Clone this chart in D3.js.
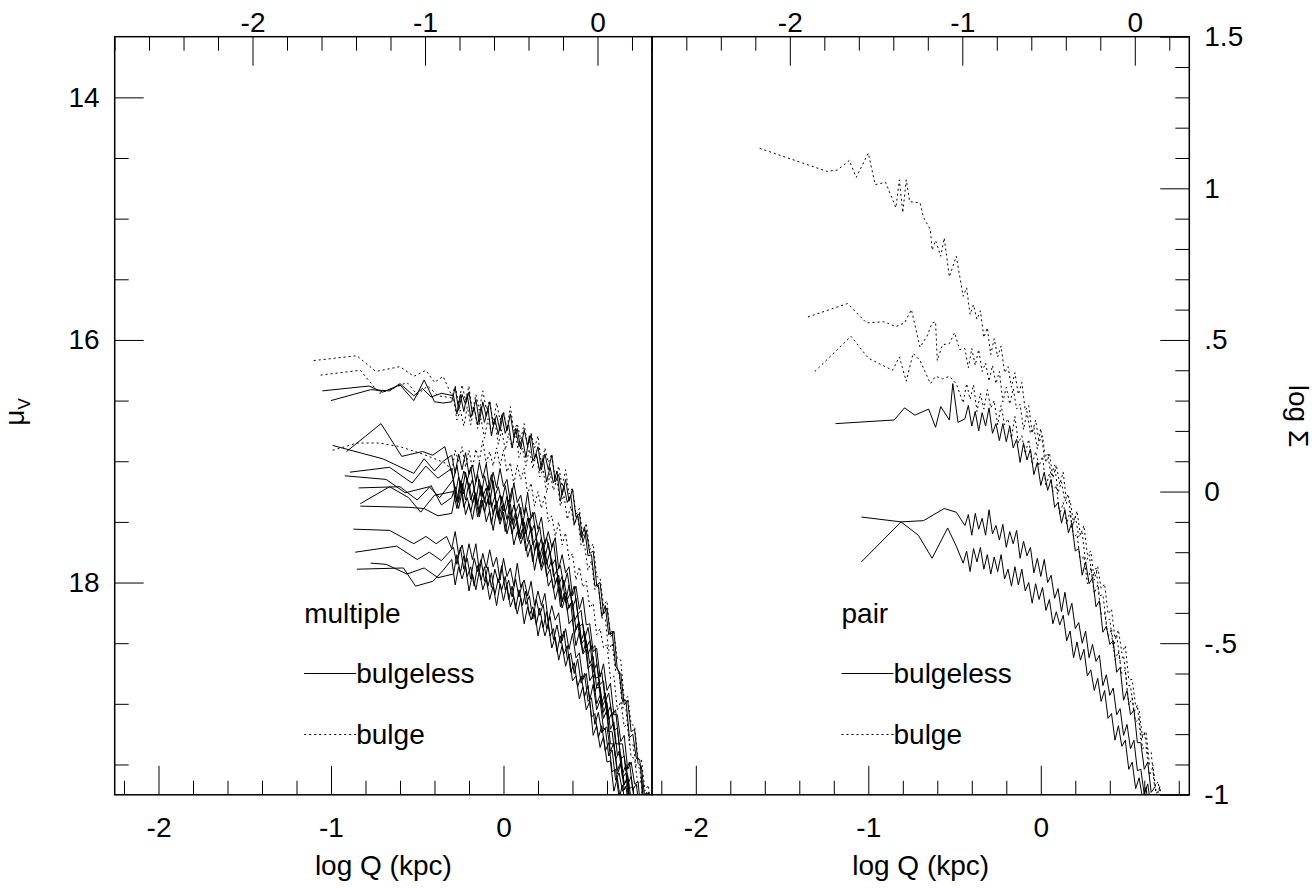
<!DOCTYPE html>
<html><head><meta charset="utf-8">
<script src="https://cdn.jsdelivr.net/npm/d3@7"></script>
<style>body{margin:0;background:#fff}svg{display:block}</style>
</head><body><svg id="c" width="1315" height="888"></svg>
<script>
// ---------- tick values / labels ----------
const BOTTOM_MAJOR = [-2,-1,0], BOTTOM_LABELS = ["-2","-1","0"];
const BOTTOM_MINOR = [-2.2,-1.8,-1.6,-1.4,-1.2,-0.8,-0.6,-0.4,-0.2,0.2,0.4,0.6,0.8];
const TOP_MAJOR = [-2,-1,0], TOP_LABELS = ["-2","-1","0"];
const TOP_MINOR = [-2.8,-2.6,-2.4,-2.2,-1.8,-1.6,-1.4,-1.2,-0.8,-0.6,-0.4,-0.2,0.2];
const MU_MAJOR = [14,16,18], MU_LABELS = ["14","16","18"];
const MU_MINOR = [14.5,15,15.5,16.5,17,17.5,18.5,19,19.5];
const SIG_MAJOR = [-1,-0.5,0,0.5,1,1.5], SIG_LABELS = ["-1","-.5","0",".5","1","1.5"];
const SIG_MINOR = [-0.9,-0.8,-0.7,-0.6,-0.4,-0.3,-0.2,-0.1,0.1,0.2,0.3,0.4,0.6,0.7,0.8,0.9,1.1,1.2,1.3,1.4];
const PANEL_NAMES = ["multiple","pair"];
const LEGEND_LABELS = ["bulgeless","bulge"];

// ---------- log Q sampling of the outer profile parts ----------
const TAIL_X_L = [-0.30,-0.28,-0.26,-0.24,-0.22,-0.20,-0.18,-0.16,-0.14,-0.12,-0.10,-0.08,-0.06,-0.04,-0.02,0.00,0.02,0.04,0.06,0.08,0.10,0.12,0.14,0.16,0.18,0.20,0.22,0.24,0.26,0.28,0.30,0.32,0.34,0.36,0.38,0.40,0.42,0.44,0.46,0.48,0.50,0.52,0.54,0.56,0.58,0.60,0.62,0.64,0.66,0.68,0.70,0.72,0.74,0.76,0.78,0.80,0.82,0.84,0.86,0.88];
const TAIL_X_L2 = [-0.29,-0.27,-0.25,-0.23,-0.21,-0.19,-0.17,-0.15,-0.13,-0.11,-0.09,-0.07,-0.05,-0.03,-0.01,0.01,0.03,0.05,0.07,0.09,0.11,0.13,0.15,0.17,0.19,0.21,0.23,0.25,0.27,0.29,0.31,0.33,0.35,0.37,0.39,0.41,0.43,0.45,0.47,0.49,0.51,0.53,0.55,0.57,0.59,0.61,0.63,0.65,0.67,0.69,0.71,0.73,0.75,0.77,0.79,0.81,0.83,0.85,0.87];
const TAIL_X_R = [-0.45,-0.43,-0.41,-0.39,-0.37,-0.35,-0.33,-0.31,-0.29,-0.27,-0.25,-0.23,-0.21,-0.19,-0.17,-0.15,-0.13,-0.11,-0.09,-0.07,-0.05,-0.03,-0.01,0.01,0.03,0.05,0.07,0.09,0.11,0.13,0.15,0.17,0.19,0.21,0.23,0.25,0.27,0.29,0.31,0.33,0.35,0.37,0.39,0.41,0.43,0.45,0.47,0.49,0.51,0.53,0.55,0.57,0.59,0.61,0.63,0.65,0.67,0.69,0.71,0.73,0.75];
const TAIL_X_R2 = [-0.44,-0.42,-0.40,-0.38,-0.36,-0.34,-0.32,-0.30,-0.28,-0.26,-0.24,-0.22,-0.20,-0.18,-0.16,-0.14,-0.12,-0.10,-0.08,-0.06,-0.04,-0.02,0.00,0.02,0.04,0.06,0.08,0.10,0.12,0.14,0.16,0.18,0.20,0.22,0.24,0.26,0.28,0.30,0.32,0.34,0.36,0.38,0.40,0.42,0.44,0.46,0.48,0.50,0.52,0.54,0.56,0.58,0.60,0.62,0.64,0.66,0.68,0.70,0.72,0.74];

// ---------- "multiple" panel: inner points [logQ, mu] and outer mu values ----------
const mS1h = [[-1.05,16.42],[-0.78,16.38],[-0.70,16.43],[-0.60,16.37],[-0.52,16.50],[-0.46,16.33],[-0.40,16.51],[-0.35,16.52]];
const mS1t = [16.51,16.39,16.58,16.45,16.53,16.43,16.61,16.49,16.68,16.51,16.63,16.51,16.70,16.62,16.75,16.60,16.75,16.61,16.80,16.73,16.90,16.74,16.87,16.78,16.98,16.88,17.07,16.94,17.07,16.95,17.17,17.11,17.28,17.15,17.33,17.23,17.46,17.43,17.67,17.57,17.76,17.74,18.02,18.00,18.26,18.21,18.43,18.40,18.72,18.75,19.01,18.97,19.23,19.21,19.49,19.52,19.79,19.73,19.95];
const mS2h = [[-1.00,16.50],[-0.77,16.41],[-0.66,16.42],[-0.60,16.36],[-0.52,16.46],[-0.47,16.40],[-0.42,16.47],[-0.36,16.44]];
const mS2t = [16.46,16.61,16.45,16.59,16.45,16.64,16.56,16.70,16.55,16.68,16.56,16.79,16.65,16.78,16.62,16.77,16.70,16.89,16.73,16.88,16.81,16.97,16.79,17.00,16.94,17.08,16.97,17.17,17.05,17.18,17.08,17.33,17.20,17.34,17.28,17.52,17.44,17.63,17.54,17.78,17.77,18.03,18.02,18.28,18.19,18.43,18.40,18.69,18.73,18.98,18.97,19.28,19.25,19.45,19.46,19.77,19.73,19.95];
const mD1h = [[-1.10,16.17],[-0.85,16.13],[-0.74,16.26],[-0.60,16.22],[-0.52,16.30],[-0.45,16.25],[-0.40,16.35],[-0.35,16.30]];
const mD1t = [16.46,16.38,16.53,16.37,16.50,16.38,16.60,16.45,16.58,16.42,16.57,16.50,16.69,16.52,16.66,16.59,16.74,16.55,16.75,16.69,16.82,16.69,16.89,16.77,16.89,16.79,17.03,16.89,17.01,16.94,17.15,17.04,17.21,17.07,17.27,17.22,17.44,17.39,17.62,17.51,17.73,17.68,17.95,17.96,18.19,18.15,18.45,18.41,18.63,18.64,18.97,18.94,19.17,19.18,19.45,19.46,19.72,19.67,19.91];
const mD2h = [[-1.06,16.29],[-0.83,16.25],[-0.72,16.44],[-0.64,16.40],[-0.56,16.35],[-0.50,16.45],[-0.44,16.38],[-0.38,16.46]];
const mD2t = [16.48,16.66,16.58,16.71,16.55,16.70,16.55,16.73,16.65,16.81,16.65,16.77,16.67,16.86,16.74,16.91,16.77,16.89,16.76,16.97,16.89,17.04,16.90,17.06,16.94,17.13,17.07,17.26,17.10,17.24,17.15,17.37,17.28,17.48,17.37,17.53,17.45,17.70,17.69,17.90,17.82,18.06,18.02,18.29,18.30,18.56,18.50,18.73,18.75,19.03,19.04,19.34,19.33,19.52,19.53,19.82,19.81];
const mD3h = [[-0.99,16.91],[-0.85,16.85],[-0.72,16.85],[-0.60,16.88],[-0.47,16.94],[-0.38,16.99],[-0.33,17.02]];
const mD3t = [17.09,16.91,17.00,16.88,17.05,16.91,17.06,16.90,17.00,16.83,17.02,16.92,17.04,16.89,17.04,16.91,17.09,17.01,17.19,17.03,17.15,17.06,17.27,17.18,17.37,17.25,17.39,17.28,17.50,17.45,17.62,17.50,17.69,17.59,17.81,17.76,17.98,17.87,18.04,17.99,18.21,18.17,18.43,18.38,18.54,18.51,18.79,18.77,19.05,18.98,19.19,19.16,19.44,19.45,19.68,19.62,19.86];
const mM1h = [[-0.99,16.87],[-0.70,16.98],[-0.52,17.10],[-0.46,16.98],[-0.40,17.08],[-0.35,17.00]];
const mM1t = [16.95,17.10,16.94,17.07,16.93,17.11,17.03,17.17,17.01,17.14,17.02,17.24,17.09,17.22,17.06,17.21,17.15,17.34,17.18,17.34,17.28,17.44,17.26,17.47,17.42,17.56,17.46,17.68,17.58,17.71,17.63,17.89,17.77,17.92,17.87,18.11,18.03,18.22,18.12,18.35,18.34,18.57,18.54,18.78,18.67,18.89,18.83,19.09,19.09,19.31,19.26,19.54,19.48,19.66,19.64,19.93];
const mM2h = [[-0.91,16.92],[-0.71,16.69],[-0.59,16.96],[-0.47,16.92],[-0.41,16.95],[-0.34,16.88]];
const mM2t = [17.15,17.03,17.21,17.08,17.16,17.05,17.23,17.11,17.29,17.12,17.24,17.11,17.29,17.21,17.34,17.20,17.35,17.22,17.42,17.35,17.53,17.38,17.51,17.42,17.63,17.54,17.74,17.63,17.77,17.66,17.90,17.86,18.03,17.92,18.11,18.03,18.26,18.23,18.47,18.37,18.55,18.52,18.78,18.74,18.98,18.91,19.10,19.05,19.33,19.33,19.55,19.48,19.71,19.66,19.90];
const mM3h = [[-0.89,17.09],[-0.66,17.05],[-0.53,17.18],[-0.45,17.04],[-0.38,17.14]];
const mM3t = [17.06,17.28,17.13,17.25,17.09,17.23,17.15,17.33,17.15,17.29,17.22,17.36,17.16,17.36,17.28,17.41,17.29,17.48,17.36,17.48,17.38,17.61,17.47,17.59,17.52,17.73,17.63,17.80,17.67,17.86,17.81,18.02,17.95,18.16,18.02,18.21,18.13,18.36,18.34,18.54,18.48,18.74,18.67,18.84,18.81,19.09,19.02,19.22,19.20,19.45,19.43,19.67,19.60,19.82];
const mM4h = [[-0.92,17.12],[-0.68,17.15],[-0.57,17.26],[-0.43,17.21],[-0.37,17.30]];
const mM4t = [17.15,17.33,17.16,17.27,17.14,17.32,17.23,17.36,17.20,17.34,17.20,17.38,17.29,17.46,17.29,17.42,17.32,17.52,17.42,17.60,17.47,17.60,17.47,17.69,17.63,17.79,17.67,17.85,17.74,17.95,17.90,18.12,17.98,18.14,18.08,18.32,18.26,18.48,18.40,18.59,18.52,18.79,18.78,18.99,18.91,19.13,19.07,19.33,19.33,19.58,19.50,19.70,19.68,19.93];
const mM5h = [[-0.84,17.22],[-0.60,17.21],[-0.50,17.32],[-0.42,17.20],[-0.36,17.36]];
const mM5t = [17.30,17.21,17.34,17.18,17.32,17.18,17.35,17.26,17.43,17.25,17.37,17.26,17.44,17.33,17.49,17.35,17.48,17.35,17.56,17.49,17.64,17.50,17.66,17.54,17.74,17.67,17.87,17.74,17.89,17.81,18.01,17.94,18.16,18.08,18.21,18.15,18.39,18.33,18.58,18.48,18.67,18.61,18.87,18.86,19.07,18.99,19.21,19.15,19.42,19.42,19.67,19.59,19.79,19.77];
const mM6h = [[-0.83,17.35],[-0.66,17.21],[-0.55,17.30],[-0.48,17.42],[-0.40,17.28]];
const mM6t = [17.25,17.39,17.19,17.38,17.30,17.42,17.28,17.46,17.32,17.42,17.31,17.52,17.36,17.47,17.37,17.58,17.45,17.60,17.45,17.63,17.56,17.74,17.65,17.83,17.67,17.84,17.74,17.95,17.89,18.06,17.96,18.20,18.09,18.23,18.17,18.43,18.34,18.51,18.47,18.71,18.67,18.90,18.82,19.03,18.97,19.23,19.23,19.46,19.39,19.61,19.57,19.88];
const mM7h = [[-0.83,17.37],[-0.55,17.38],[-0.46,17.39],[-0.38,17.45]];
const mM7t = [17.43,17.28,17.39,17.25,17.44,17.35,17.48,17.32,17.46,17.32,17.50,17.41,17.57,17.41,17.52,17.42,17.60,17.49,17.69,17.58,17.68,17.59,17.79,17.69,17.90,17.75,17.90,17.81,18.03,17.97,18.14,18.03,18.21,18.11,18.34,18.30,18.52,18.41,18.59,18.55,18.81,18.76,19.00,18.93,19.12,19.05,19.33,19.33,19.55,19.48,19.71,19.66,19.92];
const mL1h = [[-0.87,17.56],[-0.66,17.57],[-0.52,17.68],[-0.45,17.62],[-0.39,17.68],[-0.33,17.62]];
const mL1t = [17.72,17.58,17.77,17.69,17.83,17.68,17.81,17.68,17.91,17.76,17.88,17.73,17.87,17.79,17.98,17.80,17.95,17.88,18.03,17.84,18.04,17.98,18.11,17.99,18.19,18.07,18.19,18.09,18.32,18.19,18.31,18.25,18.48,18.38,18.55,18.42,18.62,18.58,18.80,18.75,18.97,18.84,19.05,18.97,19.21,19.19,19.39,19.32,19.58,19.50,19.66,19.62,19.89];
const mL2h = [[-0.86,17.75],[-0.62,17.70],[-0.50,17.81],[-0.43,17.75],[-0.36,17.82]];
const mL2t = [17.71,17.85,17.71,17.89,17.80,17.97,17.80,17.91,17.81,17.99,17.87,18.04,17.89,18.00,17.86,18.06,17.98,18.12,17.97,18.12,18.00,18.18,18.11,18.30,18.14,18.27,18.18,18.38,18.28,18.47,18.35,18.50,18.40,18.63,18.58,18.75,18.63,18.83,18.75,18.98,18.95,19.17,19.07,19.24,19.20,19.43,19.38,19.63,19.57,19.72,19.68,19.90];
const mL3h = [[-0.85,17.89],[-0.58,17.88],[-0.51,18.03],[-0.41,17.99],[-0.35,17.90]];
const mL3t = [17.81,18.02,17.87,17.97,17.87,18.07,17.93,18.06,17.90,18.06,17.97,18.14,18.03,18.19,18.01,18.15,18.02,18.20,18.12,18.26,18.13,18.34,18.20,18.31,18.22,18.44,18.31,18.44,18.35,18.54,18.45,18.64,18.52,18.69,18.59,18.81,18.77,18.96,18.86,19.05,18.98,19.26,19.18,19.36,19.27,19.48,19.47,19.72,19.61,19.82];
const mL4h = [[-0.77,17.84],[-0.68,17.85],[-0.56,17.93],[-0.46,17.88],[-0.38,17.96]];
const mL4t = [17.93,17.77,17.92,17.78,17.95,17.87,18.03,17.86,17.98,17.87,18.03,17.92,18.10,17.97,18.06,17.95,18.14,18.03,18.22,18.06,18.19,18.07,18.27,18.20,18.35,18.21,18.37,18.24,18.44,18.38,18.57,18.44,18.59,18.52,18.74,18.66,18.86,18.77,18.94,18.85,19.11,19.08,19.28,19.18,19.39,19.32,19.56,19.54,19.78,19.67,19.90];

// ---------- "pair" panel ----------
const pD1h = [[-1.63,14.42],[-1.24,14.61],[-1.18,14.60],[-1.11,14.52],[-1.07,14.66],[-1.00,14.46],[-0.96,14.72],[-0.90,14.70],[-0.84,14.91],[-0.82,14.68],[-0.80,14.95],[-0.78,14.68],[-0.76,14.86],[-0.70,14.87],[-0.68,14.99],[-0.64,15.09],[-0.63,15.26],[-0.61,15.18],[-0.58,15.31],[-0.56,15.16],[-0.53,15.48],[-0.49,15.31]];
const pD1t = [15.64,15.57,15.79,15.71,15.83,15.76,15.98,15.90,16.12,15.99,16.14,16.05,16.27,16.22,16.39,16.27,16.45,16.35,16.58,16.54,16.77,16.66,16.84,16.79,17.01,16.93,17.14,17.03,17.19,17.09,17.35,17.32,17.51,17.41,17.61,17.53,17.77,17.74,17.98,17.87,18.05,18.01,18.26,18.22,18.46,18.39,18.58,18.52,18.80,18.80,19.02,19.05,19.28,19.23,19.50,19.50,19.78,19.68,19.89];
const pD2h = [[-1.35,15.81],[-1.12,15.70],[-1.01,15.86],[-0.91,15.85],[-0.84,15.89],[-0.79,15.86],[-0.75,15.75],[-0.70,16.06],[-0.66,15.97],[-0.63,15.86],[-0.61,15.85],[-0.60,16.17],[-0.57,16.04],[-0.53,16.03],[-0.50,15.94],[-0.47,16.08]];
const pD2t = [16.07,16.23,16.07,16.21,16.08,16.26,16.19,16.34,16.21,16.36,16.26,16.51,16.39,16.53,16.40,16.57,16.53,16.74,16.59,16.77,16.72,16.90,16.73,16.97,16.94,17.12,17.03,17.26,17.17,17.33,17.27,17.55,17.45,17.62,17.59,17.84,17.77,17.97,17.88,18.11,18.10,18.33,18.30,18.54,18.43,18.65,18.60,18.85,18.85,19.07,19.01,19.29,19.23,19.41,19.40,19.69,19.64,19.84];
const pD3h = [[-1.31,16.26],[-1.10,15.97],[-1.00,16.15],[-0.86,16.25],[-0.82,16.14],[-0.78,16.34],[-0.74,16.11],[-0.70,16.17],[-0.64,16.36],[-0.61,16.30],[-0.57,16.32],[-0.53,16.30],[-0.49,16.36]];
const pD3t = [16.52,16.36,16.49,16.37,16.59,16.44,16.57,16.41,16.56,16.50,16.70,16.54,16.70,16.65,16.81,16.63,16.85,16.79,16.94,16.82,17.03,16.92,17.04,16.96,17.21,17.10,17.25,17.20,17.44,17.34,17.52,17.41,17.63,17.60,17.83,17.78,18.01,17.88,18.09,18.02,18.26,18.25,18.45,18.38,18.64,18.57,18.75,18.72,19.01,18.95,19.15,19.12,19.37,19.35,19.59,19.52,19.74,19.69];
const pS1h = [[-1.19,16.69],[-0.85,16.66],[-0.79,16.56],[-0.73,16.62],[-0.65,16.57],[-0.61,16.72],[-0.58,16.55],[-0.53,16.66],[-0.51,16.36],[-0.48,16.68]];
const pS1t = [16.65,16.54,16.71,16.59,16.75,16.60,16.71,16.56,16.77,16.69,16.83,16.69,16.84,16.71,16.89,16.82,17.01,16.85,16.99,16.90,17.11,17.01,17.20,17.09,17.24,17.15,17.38,17.34,17.51,17.40,17.59,17.51,17.74,17.72,17.94,17.83,18.01,17.96,18.20,18.15,18.41,18.36,18.51,18.48,18.74,18.70,18.97,18.89,19.09,19.05,19.32,19.32,19.54,19.48,19.73,19.69];
const pS2h = [[-1.04,17.46],[-0.81,17.50],[-0.68,17.49],[-0.56,17.39],[-0.49,17.42]];
const pS2t = [17.53,17.44,17.61,17.43,17.56,17.47,17.61,17.40,17.60,17.53,17.65,17.52,17.71,17.58,17.68,17.57,17.80,17.66,17.78,17.71,17.92,17.80,17.95,17.81,18.00,17.94,18.13,18.05,18.24,18.08,18.27,18.17,18.38,18.33,18.50,18.40,18.62,18.51,18.65,18.60,18.85,18.76,18.93,18.87,19.09,19.04,19.26,19.17,19.37,19.30,19.55,19.54,19.75,19.66,19.86];
const pS3h = [[-1.04,17.83],[-0.81,17.50],[-0.71,17.61],[-0.63,17.80],[-0.54,17.55],[-0.49,17.70]];
const pS3t = [17.84,17.74,17.91,17.72,17.83,17.71,17.89,17.77,17.93,17.79,17.91,17.77,17.97,17.89,18.03,17.87,18.02,17.89,18.07,18.00,18.17,18.01,18.14,18.04,18.23,18.14,18.34,18.24,18.35,18.27,18.48,18.40,18.62,18.49,18.64,18.55,18.77,18.72,18.89,18.79,18.98,18.89,19.12,19.08,19.30,19.18,19.35,19.30,19.54,19.48,19.70,19.61,19.78,19.69,19.90];

const multipleLines = [
  {h:mS1h,t:mS1t,g:TAIL_X_L,dot:false},{h:mS2h,t:mS2t,g:TAIL_X_L2,dot:false},
  {h:mD1h,t:mD1t,g:TAIL_X_L,dot:true},{h:mD2h,t:mD2t,g:TAIL_X_L2,dot:true},{h:mD3h,t:mD3t,g:TAIL_X_L,dot:true},
  {h:mM1h,t:mM1t,g:TAIL_X_L,dot:false},{h:mM2h,t:mM2t,g:TAIL_X_L2,dot:false},{h:mM3h,t:mM3t,g:TAIL_X_L,dot:false},
  {h:mM4h,t:mM4t,g:TAIL_X_L2,dot:false},{h:mM5h,t:mM5t,g:TAIL_X_L,dot:false},{h:mM6h,t:mM6t,g:TAIL_X_L2,dot:false},
  {h:mM7h,t:mM7t,g:TAIL_X_L,dot:false},
  {h:mL1h,t:mL1t,g:TAIL_X_L,dot:false},{h:mL2h,t:mL2t,g:TAIL_X_L2,dot:false},{h:mL3h,t:mL3t,g:TAIL_X_L,dot:false},{h:mL4h,t:mL4t,g:TAIL_X_L2,dot:false}
];
const pairLines = [
  {h:pD1h,t:pD1t,g:TAIL_X_R,dot:true},{h:pD2h,t:pD2t,g:TAIL_X_R2,dot:true},{h:pD3h,t:pD3t,g:TAIL_X_R,dot:true},
  {h:pS1h,t:pS1t,g:TAIL_X_R2,dot:false},{h:pS2h,t:pS2t,g:TAIL_X_R2,dot:false},{h:pS3h,t:pS3t,g:TAIL_X_R,dot:false}
];

// ---------- drawing ----------
const FONT = "'Liberation Sans', Arial, Helvetica, sans-serif";
const svg = d3.select("#c");
const TOP = 36.7, BOT = 794.8;
const yMu = d3.scaleLinear().domain([13.5,19.75]).range([TOP,BOT]);
const ySig = d3.scaleLinear().domain([1.5,-1]).range([TOP,BOT]);
const XDOM = [-2.254,0.861], XSHIFT = 0.545;
const panels = [{x0:114.7,x1:652,lines:multipleLines},{x0:652,x1:1189.3,lines:pairLines}];

function styleAxis(g){
  g.select(".domain").remove();
  g.attr("font-size",28).attr("font-family",FONT);
  g.selectAll("line").attr("stroke","#000").attr("stroke-width",1);
  g.selectAll("text").attr("fill","#000");
}
function axisPair(fn, scale, major, labels, minor, transform, pad){
  const gM = svg.append("g").attr("transform",transform);
  gM.call(fn(scale).tickValues(major).tickSize(-29).tickPadding(pad)
     .tickFormat(d => labels[major.indexOf(d)]));
  styleAxis(gM);
  const gm = svg.append("g").attr("transform",transform);
  gm.call(fn(scale).tickValues(minor).tickSize(-14).tickFormat(""));
  styleAxis(gm);
}

panels.forEach((p,i)=>{
  const xb = d3.scaleLinear().domain(XDOM).range([p.x0,p.x1]);
  const xt = d3.scaleLinear().domain([XDOM[0]-XSHIFT, XDOM[1]-XSHIFT]).range([p.x0,p.x1]);
  const cid = "clip"+i;
  svg.append("clipPath").attr("id",cid).append("rect")
     .attr("x",p.x0).attr("y",TOP).attr("width",p.x1-p.x0).attr("height",BOT-TOP);

  const line = d3.line().x(d=>xb(d[0])).y(d=>yMu(d[1]));
  const gl = svg.append("g").attr("clip-path",`url(#${cid})`);
  p.lines.forEach(L=>{
    const pts = L.h.concat(L.t.map((m,k)=>[L.g[k],m]));
    gl.append("path").attr("d",line(pts)).attr("fill","none").attr("stroke","#000")
      .attr("stroke-width",1).attr("stroke-linejoin","miter").attr("stroke-miterlimit",3)
      .attr("stroke-dasharray",L.dot?"2,3":null);
  });

  axisPair(d3.axisBottom, xb, BOTTOM_MAJOR, BOTTOM_LABELS, BOTTOM_MINOR, `translate(0,${BOT})`, 22);
  axisPair(d3.axisTop, xt, TOP_MAJOR, TOP_LABELS, TOP_MINOR, `translate(0,${TOP})`, 5);
  if(i===0) axisPair(d3.axisLeft, yMu, MU_MAJOR, MU_LABELS, MU_MINOR, `translate(${p.x0},0)`, 15);
  if(i===1) axisPair(d3.axisRight, ySig, SIG_MAJOR, SIG_LABELS, SIG_MINOR, `translate(${p.x1},0)`, 15);

  svg.append("rect").attr("x",p.x0).attr("y",TOP).attr("width",p.x1-p.x0).attr("height",BOT-TOP)
     .attr("fill","none").attr("stroke","#000").attr("stroke-width",1.5);

  svg.append("text").attr("x",(p.x0+p.x1)/2).attr("y",875).attr("text-anchor","middle")
     .attr("font-family",FONT).attr("font-size",28).text("log Q (kpc)");

  const lx = p.x0 + 189.5;
  const gleg = svg.append("g").attr("font-family",FONT).attr("font-size",28);
  gleg.append("text").attr("x",lx).attr("y",623).text(PANEL_NAMES[i]);
  gleg.append("line").attr("x1",lx).attr("x2",lx+52).attr("y1",673.5).attr("y2",673.5)
      .attr("stroke","#000").attr("stroke-width",1);
  gleg.append("text").attr("x",lx+52).attr("y",683).text(LEGEND_LABELS[0]);
  gleg.append("line").attr("x1",lx).attr("x2",lx+52).attr("y1",734.5).attr("y2",734.5)
      .attr("stroke","#000").attr("stroke-width",1).attr("stroke-dasharray","2,3");
  gleg.append("text").attr("x",lx+52).attr("y",744).text(LEGEND_LABELS[1]);
});

const t1 = svg.append("text").attr("transform","translate(24,412) rotate(-90)")
  .attr("text-anchor","middle").attr("font-family",FONT).attr("font-size",28);
t1.append("tspan").text("μ");
t1.append("tspan").attr("font-size",17).attr("dy",6).text("V");
svg.append("text").attr("transform","translate(1289,416) rotate(90)")
  .attr("text-anchor","middle").attr("font-family",FONT).attr("font-size",28).text("log Σ");
</script>
</body></html>
